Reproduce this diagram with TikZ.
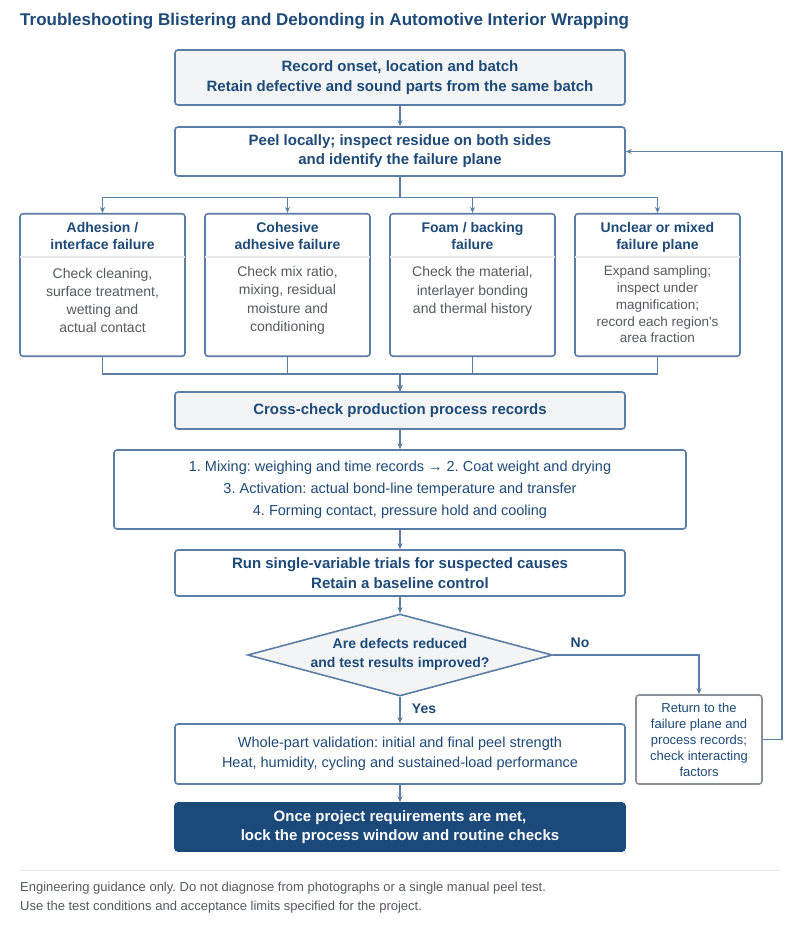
\documentclass[tikz,border=0pt]{standalone}
\usepackage{fontspec}
\setmainfont{Liberation Sans}
\usetikzlibrary{arrows.meta,shapes.geometric}
\definecolor{tblue}{HTML}{1E4A78}
\definecolor{bord}{HTML}{5C7EA4}
\definecolor{fillg}{HTML}{F2F4F6}
\definecolor{bodyg}{HTML}{555A61}
\definecolor{darkf}{HTML}{1B4A7A}
\definecolor{grayb}{HTML}{8C9198}
\definecolor{sepg}{HTML}{E6E7E8}
\frenchspacing
\tikzset{
  box/.style={draw=bord, line width=1.6pt, rounded corners=3pt, align=center, text=tblue, inner sep=0pt},
  boldA/.style={font=\fontsize{15}{20}\selectfont\bfseries},
  boldB/.style={font=\fontsize{15}{19}\selectfont\bfseries},
  normA/.style={font=\fontsize{14.5}{22}\selectfont},
  normB/.style={font=\fontsize{14.5}{20}\selectfont},
  cat/.style={box, minimum width=165, minimum height=142.5},
  cathead/.style={align=center, text=tblue, inner sep=0pt, font=\fontsize{14}{17}\selectfont\bfseries},
  catbody/.style={align=center, text=bodyg, inner sep=0pt, font=\fontsize{14}{18.3}\selectfont},
  catbodyD/.style={align=center, text=bodyg, inner sep=0pt, font=\fontsize{13.5}{16.7}\selectfont},
  divider/.style={draw=sepg, line width=1.6pt},
  arr/.style={draw=bord, line width=1.6pt, -{Stealth[length=6pt,width=5pt]}},
  lbl/.style={text=tblue, inner sep=0pt, font=\fontsize{14}{17}\selectfont\bfseries},
  foot/.style={anchor=west, text=bodyg, inner sep=0pt, font=\fontsize{13}{16}\selectfont},
}
\begin{document}
\begin{tikzpicture}[x=1pt,y=-1pt]
\useasboundingbox (0,0) rectangle (800,935);
\fill[white] (0,0) rectangle (800,935);

\node[anchor=west, text=tblue, inner sep=0pt, font=\fontsize{17}{20}\selectfont\bfseries] (title) at (20,21.5) {Troubleshooting Blistering and Debonding in Automotive Interior Wrapping};

\node[box, fill=fillg, minimum width=450, minimum height=55, boldA] (b1) at (400,77.5) {Record onset, location and batch\\Retain defective and sound parts from the same batch};
\node[box, fill=white, minimum width=450, minimum height=49, boldB] (b2) at (400,151.5) {Peel locally; inspect residue on both sides\\and identify the failure plane};

% category boxes
\node[cat] (cA) at (102.5,285) {};
\node[cat] (cB) at (287.5,285) {};
\node[cat] (cC) at (472.5,285) {};
\node[cat] (cD) at (657.5,285) {};
\foreach \c in {cA,cB,cC,cD} \draw[divider] ([xshift=1pt]\c.west |- 0,257) -- ([xshift=-1pt]\c.east |- 0,257);

\node[cathead] (hA) at (102.5,235.5) {Adhesion /\\interface failure};
\node[cathead] (hB) at (287.5,235.5) {Cohesive\\adhesive failure};
\node[cathead] (hC) at (472.5,235.5) {Foam / backing\\failure};
\node[cathead] (hD) at (657.5,237.5) {Unclear or mixed\\failure plane};

\node[catbody] (tA) at (102.5,300.5) {Check cleaning,\\surface treatment,\\wetting and\\actual contact};
\node[catbody] (tB) at (287.5,300.5) {Check mix ratio,\\mixing, residual\\moisture and\\conditioning};
\node[catbody] (tC) at (472.5,291.5) {Check the material,\\interlayer bonding\\and thermal history};
\node[catbodyD] (tD) at (657.5,304.5) {Expand sampling;\\inspect under\\magnification;\\record each region\textquotesingle s\\area fraction};

\node[box, fill=fillg, minimum width=450, minimum height=37, boldA] (b3) at (400,410.5) {Cross-check production process records};

\node[box, fill=white, minimum width=572, minimum height=79, normA] (b4) at (400,489.5) {1. Mixing: weighing and time records → 2. Coat weight and drying\\3. Activation: actual bond-line temperature and transfer\\4. Forming contact, pressure hold and cooling};

\node[box, fill=white, minimum width=450, minimum height=46, font=\fontsize{15}{19.5}\selectfont\bfseries] (b5) at (400,573) {Run single-variable trials for suspected causes\\Retain a baseline control};

\node[diamond, draw=bord, fill=fillg, line width=1.6pt, minimum width=305, minimum height=82, inner sep=0pt] (dec) at (400,655) {};
\node[align=center, text=tblue, inner sep=0pt, font=\fontsize{14}{18.5}\selectfont\bfseries] (dect) at (400,654.5) {Are defects reduced\\and test results improved?};

\node[box, draw=grayb, fill=white, minimum width=126, minimum height=89, font=\fontsize{13}{16}\selectfont] (b6) at (699,739.5) {Return to the\\failure plane and\\process records;\\check interacting\\factors};

\node[box, fill=white, minimum width=450, minimum height=60, normB] (b7) at (400,754) {Whole-part validation: initial and final peel strength\\Heat, humidity, cycling and sustained-load performance};

\node[box, draw=darkf, fill=darkf, text=white, minimum width=450, minimum height=48, font=\fontsize{15}{19}\selectfont\bfseries] (b8) at (400,827) {Once project requirements are met,\\lock the process window and routine checks};

\node[lbl] (no) at (580,643) {No};
\node[lbl] (yes) at (424,709) {Yes};

% connectors
\draw[arr] (b1) -- (b2);
\foreach \c in {cA,cB,cC,cD} \draw[arr] (b2.south) -- ++(0,20.5) -| (\c.north);
\foreach \c in {cA,cB,cC,cD} \draw[arr] (\c.south) -- ++(0,17) -| (b3.north);
\draw[arr] (b3) -- (b4);
\draw[arr] (b4) -- (b5);
\draw[arr] (b5) -- (dec.north);
\draw[arr] (dec.south) -- (b7.north);
\draw[arr] (b7) -- (b8);
\draw[arr] (dec.east) -| (b6.north);
\draw[arr] (b6.east) -- ++(19,0) |- (b2.east);

% footer
\draw[divider] (20,870.5) -- (780,870.5);
\node[foot] (f1) at (20,888) {Engineering guidance only. Do not diagnose from photographs or a single manual peel test.};
\node[foot] (f2) at (20,907) {Use the test conditions and acceptance limits specified for the project.};
\end{tikzpicture}
\end{document}
